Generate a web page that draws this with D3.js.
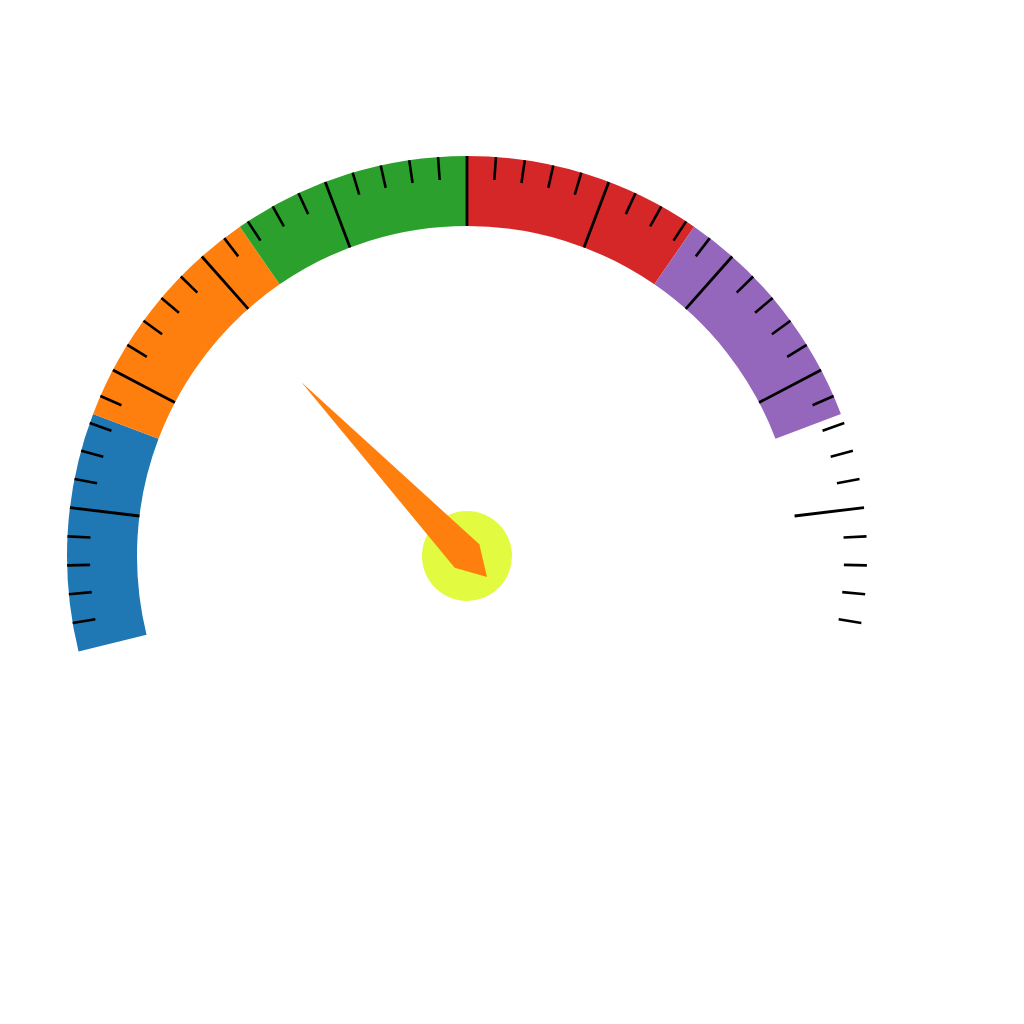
<!DOCTYPE html>
<html><head><meta charset="utf-8">
<script src="https://cdn.jsdelivr.net/npm/d3@7"></script>
<style>html,body{margin:0;padding:0;background:#fff}</style>
</head><body>
<svg id="chart" width="1024" height="1024"></svg>
<script>
// Data
const segmentBounds = [0, 100/6, 200/6, 50, 400/6, 500/6, 100];
const segmentColors = ["#1f77b4", "#ff7f0e", "#2ca02c", "#d62728", "#9467bd", "none"];
const majorTicks = [10, 20, 30, 40, 50, 60, 70, 80, 90];
const minorTicks = [2,4,6,8,12,14,16,18,22,24,26,28,32,34,36,38,42,44,46,48,52,54,56,58,62,64,66,68,72,74,76,78,82,84,86,88,92,94,96,98];
const needleValue = 29;

const cx = 467, cy = 556, rOuter = 400, rInner = 330, rMinor = 377;
const maxDeg = 103.8;
const angle = d3.scaleLinear().domain([0, 100]).range([-maxDeg * Math.PI/180, maxDeg * Math.PI/180]);

const svg = d3.select("#chart");
const g = svg.append("g").attr("transform", `translate(${cx},${cy})`);

const arc = d3.arc().innerRadius(rInner).outerRadius(rOuter);
const segs = segmentColors.map((c, i) => ({start: segmentBounds[i], end: segmentBounds[i+1], color: c}));
g.selectAll("path.seg").data(segs.filter(d => d.color !== "none")).join("path")
  .attr("class", "seg")
  .attr("d", d => arc({startAngle: angle(d.start), endAngle: angle(d.end)}))
  .attr("fill", d => d.color);

function tickLine(sel, r0, r1) {
  sel.attr("x1", d => r0 * Math.sin(angle(d))).attr("y1", d => -r0 * Math.cos(angle(d)))
     .attr("x2", d => r1 * Math.sin(angle(d))).attr("y2", d => -r1 * Math.cos(angle(d)));
}
g.selectAll("line.minor").data(minorTicks).join("line").attr("class", "minor")
  .call(tickLine, rMinor, rOuter).attr("stroke", "#000").attr("stroke-width", 2.6);
g.selectAll("line.major").data(majorTicks).join("line").attr("class", "major")
  .call(tickLine, rInner, rOuter).attr("stroke", "#000").attr("stroke-width", 2.8);

// hub
g.append("circle").attr("r", 45).attr("fill", "#e2fa3f");

// needle
const needle = [[0, -240], [17, 0], [0, 29], [-17, 0]];
g.append("path")
  .attr("d", d3.line()(needle) + "Z")
  .attr("fill", "#ff7f0e")
  .attr("transform", `rotate(${angle(needleValue) * 180 / Math.PI})`);
</script>
</body></html>
